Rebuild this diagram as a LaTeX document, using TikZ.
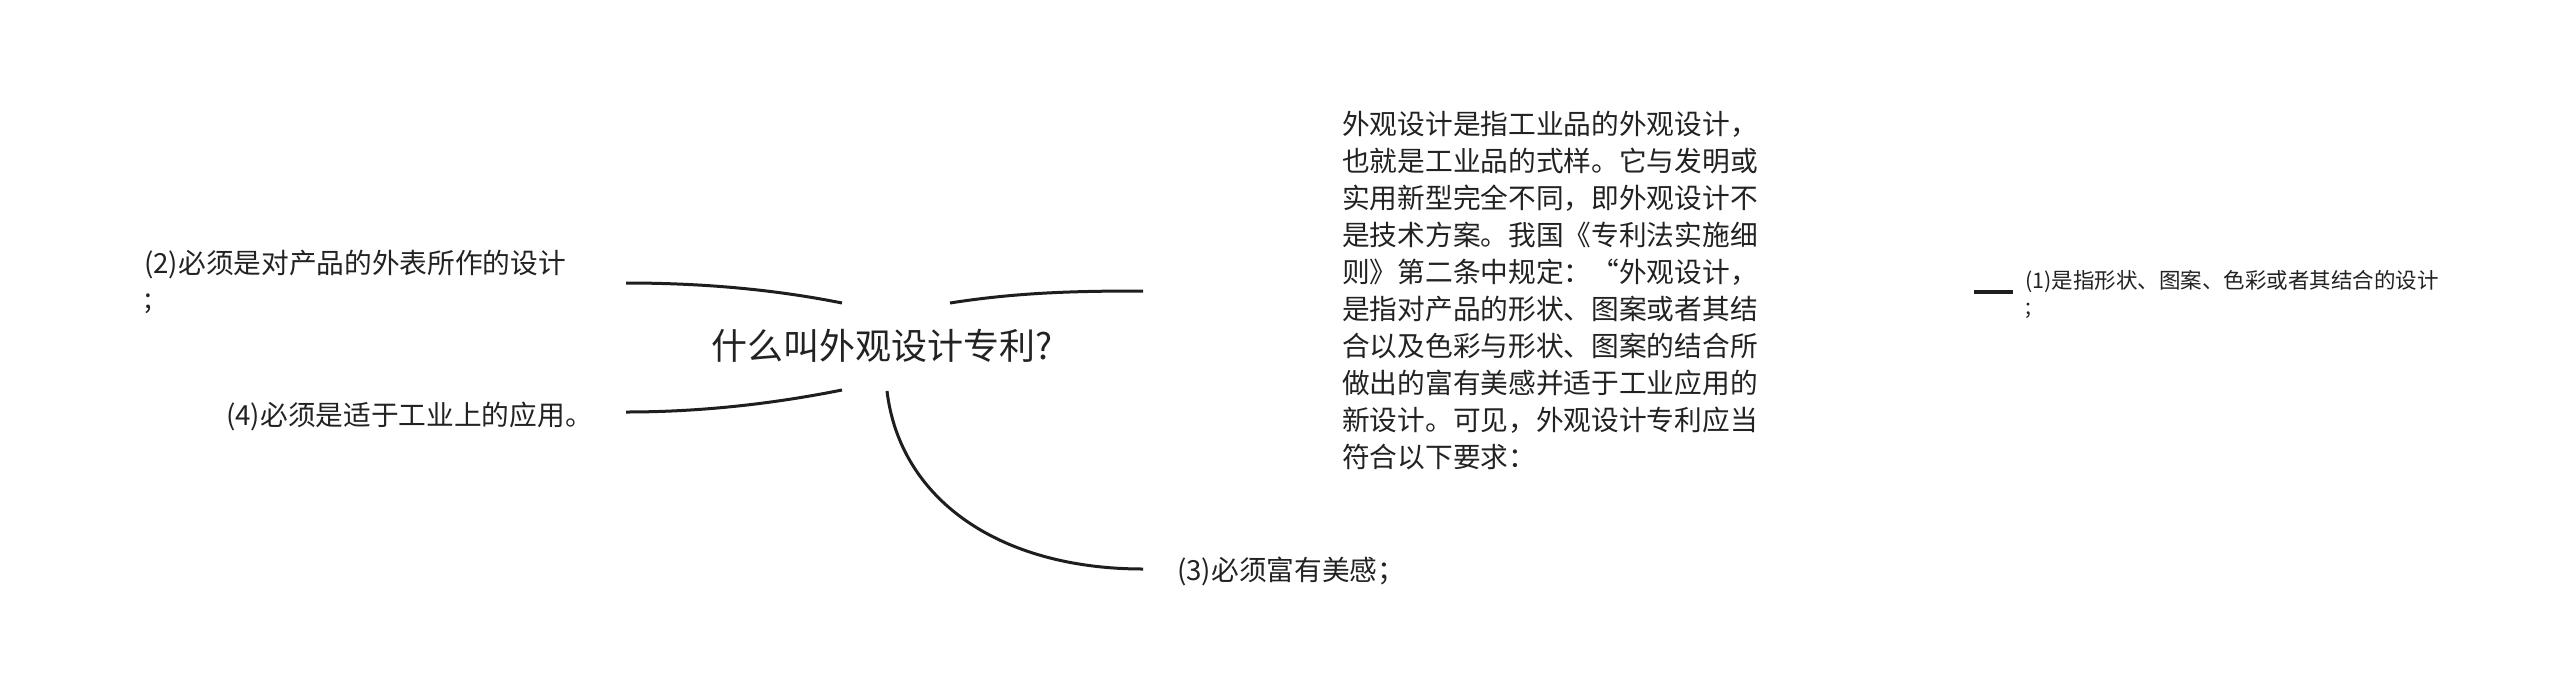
\documentclass[tikz,border=0pt]{standalone}
\usepackage{fontspec}
\setmainfont{Noto Sans CJK SC}
\definecolor{linec}{HTML}{1e1e1e}
\definecolor{textc}{HTML}{222222}
\begin{document}
\begin{tikzpicture}[x=1pt,y=-1pt,
  conn/.style={draw=linec, line width=3pt},
  lvl/.style={inner sep=0pt, text=textc, anchor=base west, font=\fontsize{27.7}{35}\selectfont},
  titlebox/.style={inner sep=0pt, text=textc, anchor=base, font=\fontsize{36}{40}\selectfont},
  smallbox/.style={inner sep=0pt, text=textc, anchor=base west, font=\fontsize{21.5}{26}\selectfont}]
\useasboundingbox (0,0) rectangle (2560,694);
\fill[white] (0,0) rectangle (2560,694);

% nodes
\node[titlebox] (t) at (882,359) {什么叫外观设计专利?};
\node[lvl] (n2) at (144,273.5) {\vtop{\baselineskip=35pt\hbox{(2)必须是对产品的外表所作的设计}\hbox{;}}};
\node[lvl] (n4) at (226,425.5) {(4)必须是适于工业上的应用。};
\node[lvl] (n3) at (1177,580.5) {(3)必须富有美感；};
\node[lvl] (d) at (1342,134) {\vtop{\baselineskip=37pt
  \hbox{外观设计是指工业品的外观设计，}
  \hbox{也就是工业品的式样。它与发明或}
  \hbox{实用新型完全不同，即外观设计不}
  \hbox{是技术方案。我国《专利法实施细}
  \hbox{则》第二条中规定：“外观设计，}
  \hbox{是指对产品的形状、图案或者其结}
  \hbox{合以及色彩与形状、图案的结合所}
  \hbox{做出的富有美感并适于工业应用的}
  \hbox{新设计。可见，外观设计专利应当}
  \hbox{符合以下要求：}}};
\node[smallbox] (n1) at (2025,288) {\vtop{\baselineskip=26pt\hbox{(1)是指形状、图案、色彩或者其结合的设计}\hbox{;}}};

% connector end points
\coordinate (tTL) at (842,303);
\coordinate (tTR) at (950,303);
\coordinate (tBL) at (842,390);
\coordinate (tB)  at (887,391);
\coordinate (e2) at (626,283);
\coordinate (e4) at (626,412);
\coordinate (ed) at (1143,291);
\coordinate (e3) at (1143,569);
\coordinate (dR) at (1974,292);
\coordinate (e1) at (2013,292);

% connectors
\draw[conn] (tTL) .. controls (772,289) and (700,283) .. (e2);
\draw[conn] (tBL) .. controls (772,404) and (700,412) .. (e4);
\draw[conn] (tTR) .. controls (1020,292) and (1080,291) .. (ed);
\draw[conn] (tB) .. controls (900,500) and (1000,569) .. (e3);
\draw[conn, line width=3.4pt] (dR) -- (e1);
\end{tikzpicture}
\end{document}
